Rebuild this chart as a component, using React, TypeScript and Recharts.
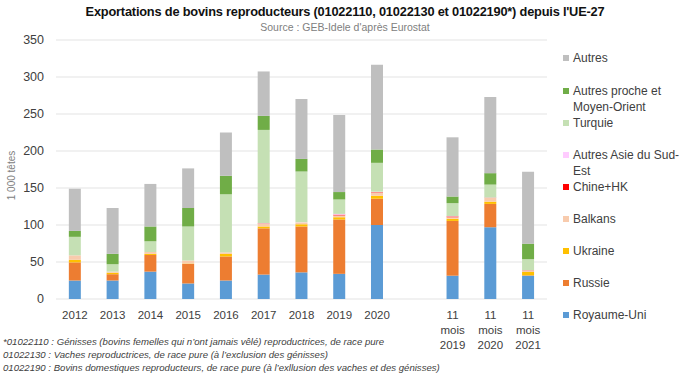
import React from "react";
import { Bar, BarChart, CartesianGrid, XAxis, YAxis } from "recharts";

const categories = ["2012", "2013", "2014", "2015", "2016", "2017", "2018", "2019", "2020", "", "11 mois 2019", "11 mois 2020", "11 mois 2021"];

const royaumeUni = [25, 25, 37, 21, 25, 33, 36, 34, 100, null, 31.5, 97, 31.5];
const russie = [24.5, 8.5, 22.5, 26.5, 32.5, 62.5, 62, 73.5, 35.5, null, 74, 31.5, 0.5];
const ukraine = [3.5, 2, 1.5, 0.5, 3.5, 2.5, 3, 3, 4, null, 3, 3, 4.5];
const balkans = [6, 1.5, 2.5, 4, 2, 3.5, 2.5, 2.5, 4.5, null, 2, 5, 2];
const chineHK = [0, 0, 0, 0, 0, 0.5, 0, 1, 0.5, null, 1, 0.3, 0.3];
const asieSudEst = [0, 0, 0, 0, 0, 0.5, 0.3, 1, 0.5, null, 0.5, 0.3, 0];
const turquie = [25, 10, 14.5, 46, 78.5, 126, 68.5, 19.5, 39, null, 17.5, 17.5, 15];
const procheMoyenOrient = [8, 14, 20, 25, 25, 19, 17, 10, 18, null, 9, 15.5, 21];
const autres = [57, 62, 57.5, 53.5, 58.5, 60, 81, 104, 114.5, null, 80, 103, 97];

const yTicks = [0, 50, 100, 150, 200, 250, 300, 350];

const series = [
  { key: "ru", name: "Royaume-Uni", values: royaumeUni, color: "#5B9BD5" },
  { key: "rs", name: "Russie", values: russie, color: "#ED7D31" },
  { key: "uk", name: "Ukraine", values: ukraine, color: "#FFC000" },
  { key: "bk", name: "Balkans", values: balkans, color: "#F8CBAD" },
  { key: "ch", name: "Chine+HK", values: chineHK, color: "#FF0000" },
  { key: "as", name: "Autres Asie du Sud-\nEst", values: asieSudEst, color: "#FFCCFF" },
  { key: "tq", name: "Turquie", values: turquie, color: "#C5E0B4" },
  { key: "pm", name: "Autres proche et\nMoyen-Orient", values: procheMoyenOrient, color: "#70AD47" },
  { key: "au", name: "Autres", values: autres, color: "#BFBFBF" },
];

const data = categories.map((cat, i) => {
  const row: Record<string, any> = { cat };
  series.forEach((s) => (row[s.key] = s.values[i]));
  return row;
});

const FONT = "'Liberation Sans', Arial, sans-serif";

const XTick = (props: any) => {
  const { x, y, payload } = props;
  const text: string = payload.value;
  const lines = text.startsWith("11 mois") ? ["11", "mois", text.slice(8)] : [text];
  return (
    <g transform={`translate(${x},${y})`}>
      {lines.map((l, i) => (
        <text key={i} x={0} y={12 + i * 15} textAnchor="middle" fill="#404040" fontSize={11.5} fontFamily={FONT}>
          {l}
        </text>
      ))}
    </g>
  );
};

const YLabel = (props: any) => {
  const { viewBox } = props;
  const x = viewBox.x - 1;
  const y = viewBox.y + viewBox.height / 2 + 6;
  return (
    <text x={x} y={y} transform={`rotate(-90 ${x} ${y})`} textAnchor="middle" fill="#808080" fontSize={10} fontFamily={FONT}>
      1 000 têtes
    </text>
  );
};

// legend tops
const legendTops = [50, 83, 115, 147, 179, 211, 243, 275, 307];

function SideLegend() {
  const items = [...series].reverse();
  return (
    <div style={{ position: "absolute", left: 563, top: 0, width: 127, height: 330, fontSize: 12, color: "#404040" }}>
      {items.map((s, i) => (
        <div key={s.key} style={{ position: "absolute", top: legendTops[i], left: 0, display: "flex", lineHeight: "16px" }}>
          <span style={{ width: 6, height: 6, background: s.color, marginTop: 5, marginRight: 4, flex: "none" }} />
          <span style={{ whiteSpace: "pre" }}>{s.name}</span>
        </div>
      ))}
    </div>
  );
}

export default function App() {
  return (
    <div style={{ position: "absolute", top: 0, left: 0, width: 690, height: 373, background: "#fff", fontFamily: FONT }}>
      <div style={{ position: "absolute", top: 4, left: 0, width: 690, textAlign: "center", fontWeight: "bold", fontSize: 12.8, color: "#111", letterSpacing: -0.2 }}>
        Exportations de bovins reproducteurs (01022110, 01022130 et 01022190*) depuis l'UE-27
      </div>
      <div style={{ position: "absolute", top: 21, left: 0, width: 690, textAlign: "center", fontSize: 10.5, color: "#808080" }}>
        Source : GEB-Idele d'après Eurostat
      </div>
      <BarChart width={690} height={373} data={data} margin={{ top: 40, right: 143, bottom: 44, left: 16 }} barCategoryGap="34%">
        <CartesianGrid vertical={false} stroke="#E3E3E3" />
        <XAxis dataKey="cat" height={30} interval={0} axisLine={false} tickLine={false} tick={<XTick />} />
        <YAxis
          width={40}
          domain={[0, 350]}
          ticks={yTicks}
          axisLine={false}
          tickLine={false}
          tickMargin={6}
          tick={{ fill: "#404040", fontSize: 12.5, fontFamily: FONT }}
          label={<YLabel />}
        />
        {series.map((s) => (
          <Bar key={s.key} dataKey={s.key} name={s.name} stackId="a" fill={s.color} isAnimationActive={false} />
        ))}
      </BarChart>
      <SideLegend />
      <div style={{ position: "absolute", top: 335, left: 3, fontSize: 9.6, fontStyle: "italic", color: "#404040", lineHeight: "13px", whiteSpace: "pre" }}>
        {"*01022110 : Génisses (bovins femelles qui n’ont jamais vêlé) reproductrices, de race pure\n01022130 : Vaches reproductrices, de race pure (à l’exclusion des génisses)\n01022190 : Bovins domestiques reproducteurs, de race pure (à l’exllusion des vaches et des génisses)"}
      </div>
    </div>
  );
}
